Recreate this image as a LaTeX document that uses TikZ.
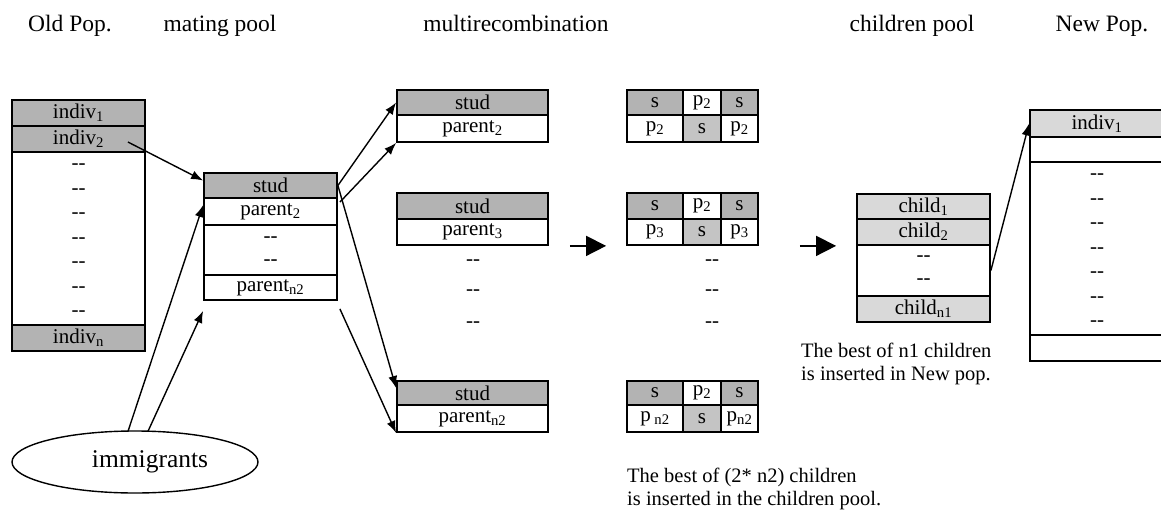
\documentclass[tikz,border=0pt]{standalone}
\usepackage{fontspec}
\setmainfont{Liberation Serif}
\usetikzlibrary{arrows.meta,shapes.geometric}
\definecolor{midg}{RGB}{179,179,179}
\definecolor{softg}{RGB}{196,196,196}
\definecolor{paleg}{RGB}{217,217,217}
% two separate hyphens, not an en dash
\newcommand\dd{-\kern0pt-}
\begin{document}
\begin{tikzpicture}[x=1pt,y=-1pt,
  boxfont/.style={font=\fontsize{21}{24}\selectfont},
  cell/.style={draw, line width=1.8pt, inner sep=0pt, boxfont},
  gap/.style={inner sep=0pt, boxfont},
  title/.style={inner sep=0pt, anchor=base, font=\fontsize{23.5}{28}\selectfont},
  note/.style={inner sep=0pt, anchor=base west, font=\fontsize{20.5}{23}\selectfont},
  link/.style={line width=1.4pt, -{Latex[length=12pt,width=9pt]}},
  bigarrow/.style={line width=1.6pt, -{Triangle[length=20pt,width=20pt]}}]
\useasboundingbox (0,0) rectangle (1161,511);

% column titles
\node[title] (t1) at (70,32) {Old Pop.};
\node[title] (t2) at (220,32) {mating pool};
\node[title] (t3) at (516,32) {multirecombination};
\node[title] (t4) at (912,32) {children pool};
\node[title] (t5) at (1102,32) {New Pop.};

% old population
\begin{scope}[every node/.append style={minimum width=133}]
\node[cell, fill=midg, minimum height=26] (o1) at (78.5,113) {indiv\textsubscript{1}};
\node[cell, fill=midg, minimum height=26] (o2) at (78.5,139) {indiv\textsubscript{2}};
\node[cell, minimum height=173] (od) at (78.5,238.5) {};
\node[cell, fill=midg, minimum height=26] (on) at (78.5,338) {indiv\textsubscript{n}};
\end{scope}
\foreach \y [count=\i] in {167,191.5,216,240.5,265,289.5,314}
  \node[gap] (odash\i) at (78.5,\y) {\dd};

% mating pool
\begin{scope}[every node/.append style={minimum width=133}]
\node[cell, fill=midg, minimum height=25] (m1) at (270.5,185.5) {stud};
\node[cell, minimum height=27] (m2) at (270.5,211.5) {parent\textsubscript{2}};
\node[cell, minimum height=50] (md) at (270.5,250) {};
\node[cell, minimum height=25] (mn) at (270.5,287.5) {parent\textsubscript{n2}};
\end{scope}
\node[gap] (mdash1) at (270.5,240) {\dd};
\node[gap] (mdash2) at (270.5,263) {\dd};

% multirecombination: stud / parent pairs
\begin{scope}[every node/.append style={minimum width=151}]
\node[cell, fill=midg, minimum height=25] (a1) at (472.5,102.5) {stud};
\node[cell, minimum height=27] (a2) at (472.5,128.5) {parent\textsubscript{2}};
\node[cell, fill=midg, minimum height=26] (b1) at (472.5,206) {stud};
\node[cell, minimum height=26] (b2) at (472.5,232) {parent\textsubscript{3}};
\node[cell, fill=midg, minimum height=24] (c1) at (472.5,393) {stud};
\node[cell, minimum height=27] (c2) at (472.5,418.5) {parent\textsubscript{n2}};
\end{scope}
\foreach \y [count=\i] in {263,293,325}
  \node[gap] (pdash\i) at (473,\y) {\dd};

% offspring grids
\tikzset{gl/.style={cell, minimum width=56}, gm/.style={cell, minimum width=38}, gr/.style={cell, minimum width=37}}
\node[gl, fill=midg, minimum height=25] (g1a) at (655,102.5) {s};
\node[gm, minimum height=25] (g1b) at (702,102.5) {p\textsubscript{2}};
\node[gr, fill=midg, minimum height=25] (g1c) at (739.5,102.5) {s};
\node[gl, minimum height=27] (g1d) at (655,128.5) {p\textsubscript{2}};
\node[gm, fill=softg, minimum height=27] (g1e) at (702,128.5) {s};
\node[gr, minimum height=27] (g1f) at (739.5,128.5) {p\textsubscript{2}};

\node[gl, fill=midg, minimum height=26] (g2a) at (655,206) {s};
\node[gm, minimum height=26] (g2b) at (702,206) {p\textsubscript{2}};
\node[gr, fill=midg, minimum height=26] (g2c) at (739.5,206) {s};
\node[gl, minimum height=26] (g2d) at (655,232) {p\textsubscript{3}};
\node[gm, fill=softg, minimum height=26] (g2e) at (702,232) {s};
\node[gr, minimum height=26] (g2f) at (739.5,232) {p\textsubscript{3}};

\node[gl, fill=midg, minimum height=24] (g3a) at (655,393) {s};
\node[gm, minimum height=24] (g3b) at (702,393) {p\textsubscript{2}};
\node[gr, fill=midg, minimum height=24] (g3c) at (739.5,393) {s};
\node[gl, minimum height=27] (g3d) at (655,418.5) {p\,\textsubscript{n2}};
\node[gm, fill=softg, minimum height=27] (g3e) at (702,418.5) {s};
\node[gr, minimum height=27] (g3f) at (739.5,418.5) {p\textsubscript{n2}};
\foreach \y [count=\i] in {263,293,325}
  \node[gap] (gdash\i) at (712,\y) {\dd};

% children pool
\begin{scope}[every node/.append style={minimum width=133}]
\node[cell, fill=paleg, minimum height=25] (k1) at (923.5,206.5) {child\textsubscript{1}};
\node[cell, fill=paleg, minimum height=26] (k2) at (923.5,232) {child\textsubscript{2}};
\node[cell, minimum height=51] (kd) at (923.5,270.5) {};
\node[cell, fill=paleg, minimum height=26] (kn) at (923.5,309) {child\textsubscript{n1}};
\end{scope}
\node[gap] (kdash1) at (923.5,259) {\dd};
\node[gap] (kdash2) at (923.5,282) {\dd};

% new population
\begin{scope}[every node/.append style={minimum width=134}]
\node[cell, fill=paleg, minimum height=27] (n1) at (1097,123.5) {indiv\textsubscript{1}};
\node[cell, minimum height=25] (n2) at (1097,149.5) {};
\node[cell, minimum height=173] (nd) at (1097,248.5) {};
\node[cell, minimum height=26] (nn) at (1097,348) {};
\end{scope}
\foreach \y [count=\i] in {177,201.5,226,250.5,275,299.5,324}
  \node[gap] (ndash\i) at (1097,\y) {\dd};

% immigrants
\node[draw, ellipse, line width=1.4pt, minimum width=246, minimum height=62, inner sep=0pt,
      font=\fontsize{25.5}{30}\selectfont] (imm) at (135,462) {\hspace*{30pt}immigrants};

% notes
\node[note] (note1) at (801,357) {The best of n1 children};
\node[note] (note2) at (801,380) {is inserted in New pop.};
\node[note] (note3) at (627,482) {The best of (2* n2) children};
\node[note] (note4) at (627,505) {is inserted in the children pool.};

% connectors into the mating pool
\draw[link] ([shift={(-18,3)}]o2.east) -- ([shift={(0,-5)}]m1.west);
\draw[link] ([shift={(-7,1)}]imm.north) -- ([shift={(0,8)}]m2.north west);
\draw[link] ([shift={(13,1)}]imm.north) -- ([shift={(0,10)}]mn.south west);

% connectors out of the mating pool
\draw[link] (m1.east) -- (a1.west);
\draw[link] ([shift={(2,5)}]m2.north east) -- (a2.south west);
\draw[link] (m1.east) -- ([shift={(0,-5)}]c1.west);
\draw[link] ([shift={(2,8)}]mn.south east) -- (c2.south west);

% recombination flow
\draw[bigarrow] ([shift={(21,0)}]b2.south east) -- ([shift={(-20,0)}]g2d.south west);
\draw[bigarrow] ([shift={(41,0)}]g2f.south east) -- ([shift={(-20,0)}]k2.south west);
\draw[link] (kd.east) -- (n1.west);
\end{tikzpicture}
\end{document}
